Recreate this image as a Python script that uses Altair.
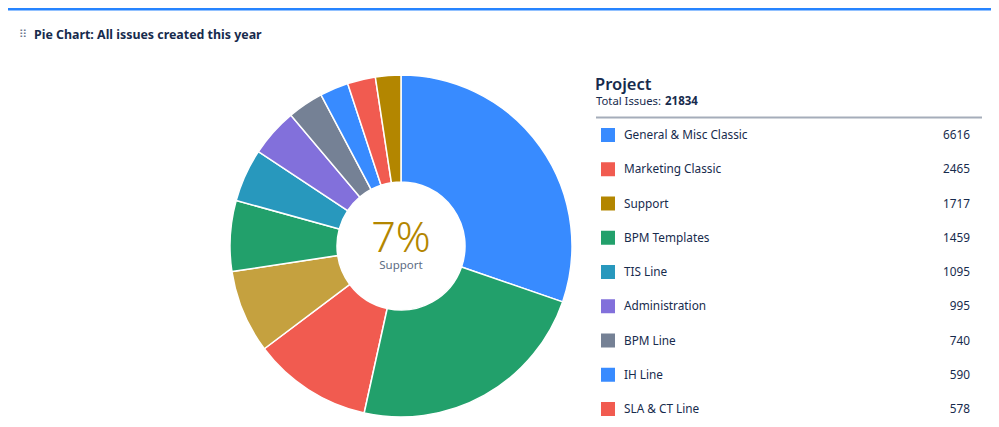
import altair as alt
import pandas as pd

# ---- data (legend order) ----
projects = ["General & Misc Classic", "Marketing Classic", "Support", "BPM Templates",
            "TIS Line", "Administration", "BPM Line", "IH Line", "SLA & CT Line",
            "Miscellaneous", "Other"]
counts = [6616, 2465, 1717, 1459, 1095, 995, 740, 590, 578, 524, 5055]
# clockwise position of each project in the pie (from 12 o'clock)
pie_position = [0, 2, 3, 4, 5, 6, 7, 8, 9, 10, 1]
visible_rows = 9  # rows visible in the legend panel
highlighted = "Support"
title_text = "Pie Chart: All issues created this year"

# ---- styles ----
palette = ["#388BFF", "#F15B50", "#B38600", "#22A06B", "#2898BD", "#8270DB",
           "#758195", "#388BFF", "#F15B50", "#B38600", "#22A06B"]
hover_color = "#C5A13F"
FONT = "Noto Sans"
W, H = 983, 411
M = 8  # page margin offset
CX, CY = 401 - M, 246 - M

df = pd.DataFrame({
    "project": projects,
    "count": counts,
    "pos": pie_position,
    "rank": list(range(len(projects))),
})

color_scale = alt.Scale(domain=projects, range=palette)
base = alt.Chart(df)
one = "datum.rank == 0"

top_line = base.mark_rule(color="#2684FF", strokeWidth=3).encode(
    x=alt.value(0), x2=alt.value(W), y=alt.value(1)
).transform_filter(one)

handle = base.mark_text(text="⠿", font="DejaVu Sans", fontSize=11, color="#6B778C",
                        align="left", baseline="alphabetic").encode(
    x=alt.value(19 - M), y=alt.value(38 - M)
).transform_filter(one)

title = base.mark_text(text=title_text, font=FONT, fontSize=12.4, fontWeight="bold",
                       color="#172B4D", align="left", baseline="alphabetic").encode(
    x=alt.value(34 - M), y=alt.value(39 - M)
).transform_filter(one)

pie = base.mark_arc(radius=171, radius2=64, stroke="white", strokeWidth=1.5).encode(
    theta=alt.Theta("count:Q", stack=True),
    order=alt.Order("pos:Q"),
    color=alt.condition(f"datum.project == '{highlighted}'", alt.value(hover_color),
                        alt.Color("project:N", scale=color_scale, legend=None)),
    x=alt.value(CX), y=alt.value(CY),
)

pct = base.transform_joinaggregate(total="sum(count)").transform_filter(
    f"datum.project == '{highlighted}'"
).transform_calculate(
    label="floor(datum.count / datum.total * 100) + '%'"
).mark_text(font=FONT, fontSize=43, fontWeight=300, color="#B38600", align="center",
            baseline="alphabetic").encode(
    text="label:N", x=alt.value(CX), y=alt.value(252 - M)
)

pct_name = base.transform_filter(f"datum.project == '{highlighted}'").mark_text(
    font=FONT, fontSize=11.5, color="#5E6C84", align="center", baseline="alphabetic"
).encode(text="project:N", x=alt.value(CX), y=alt.value(269 - M))

leg_title = base.mark_text(text="Project", font=FONT, fontSize=16.5, fontWeight=600,
                           color="#172B4D", align="left", baseline="alphabetic").encode(
    x=alt.value(595 - M), y=alt.value(90 - M)
).transform_filter(one)

total_lbl = base.mark_text(text="Total Issues:", font=FONT, fontSize=11.3,
                           color="#172B4D", align="left", baseline="alphabetic").encode(
    x=alt.value(596 - M), y=alt.value(105 - M)
).transform_filter(one)

total_val = base.transform_aggregate(total="sum(count)").mark_text(
    font=FONT, fontSize=11.5, fontWeight="bold", color="#172B4D", align="left",
    baseline="alphabetic"
).encode(text="total:Q", x=alt.value(665 - M), y=alt.value(105 - M))

sep = base.mark_rule(color="#A5ADBA", strokeWidth=2).encode(
    x=alt.value(596 - M), x2=alt.value(982 - M), y=alt.value(117.5 - M)
).transform_filter(one)

row_y = alt.Y("rank:Q", scale=alt.Scale(domain=[0, visible_rows - 1],
                                        range=[135 - M, 409 - M]), axis=None)
rows = base.transform_filter(f"datum.rank < {visible_rows}")

squares = rows.mark_square(size=196, opacity=1).encode(
    x=alt.value(608 - M), y=row_y,
    color=alt.Color("project:N", scale=color_scale, legend=None),
)
names = rows.mark_text(font=FONT, fontSize=11.8, color="#172B4D", align="left",
                       baseline="middle").encode(
    x=alt.value(624 - M), y=row_y, text="project:N")
vals = rows.mark_text(font=FONT, fontSize=11.8, color="#172B4D", align="right",
                      baseline="middle").encode(
    x=alt.value(970 - M), y=row_y, text="count:Q")

chart = alt.layer(
    top_line, handle, title, pie, pct, pct_name, leg_title, total_lbl, total_val,
    sep, squares, names, vals
).properties(
    width=W, height=H, padding=0, autosize="none", background="white"
).configure_view(stroke=None)

chart.save("out.html", embed_options={"renderer": "svg", "actions": False})
